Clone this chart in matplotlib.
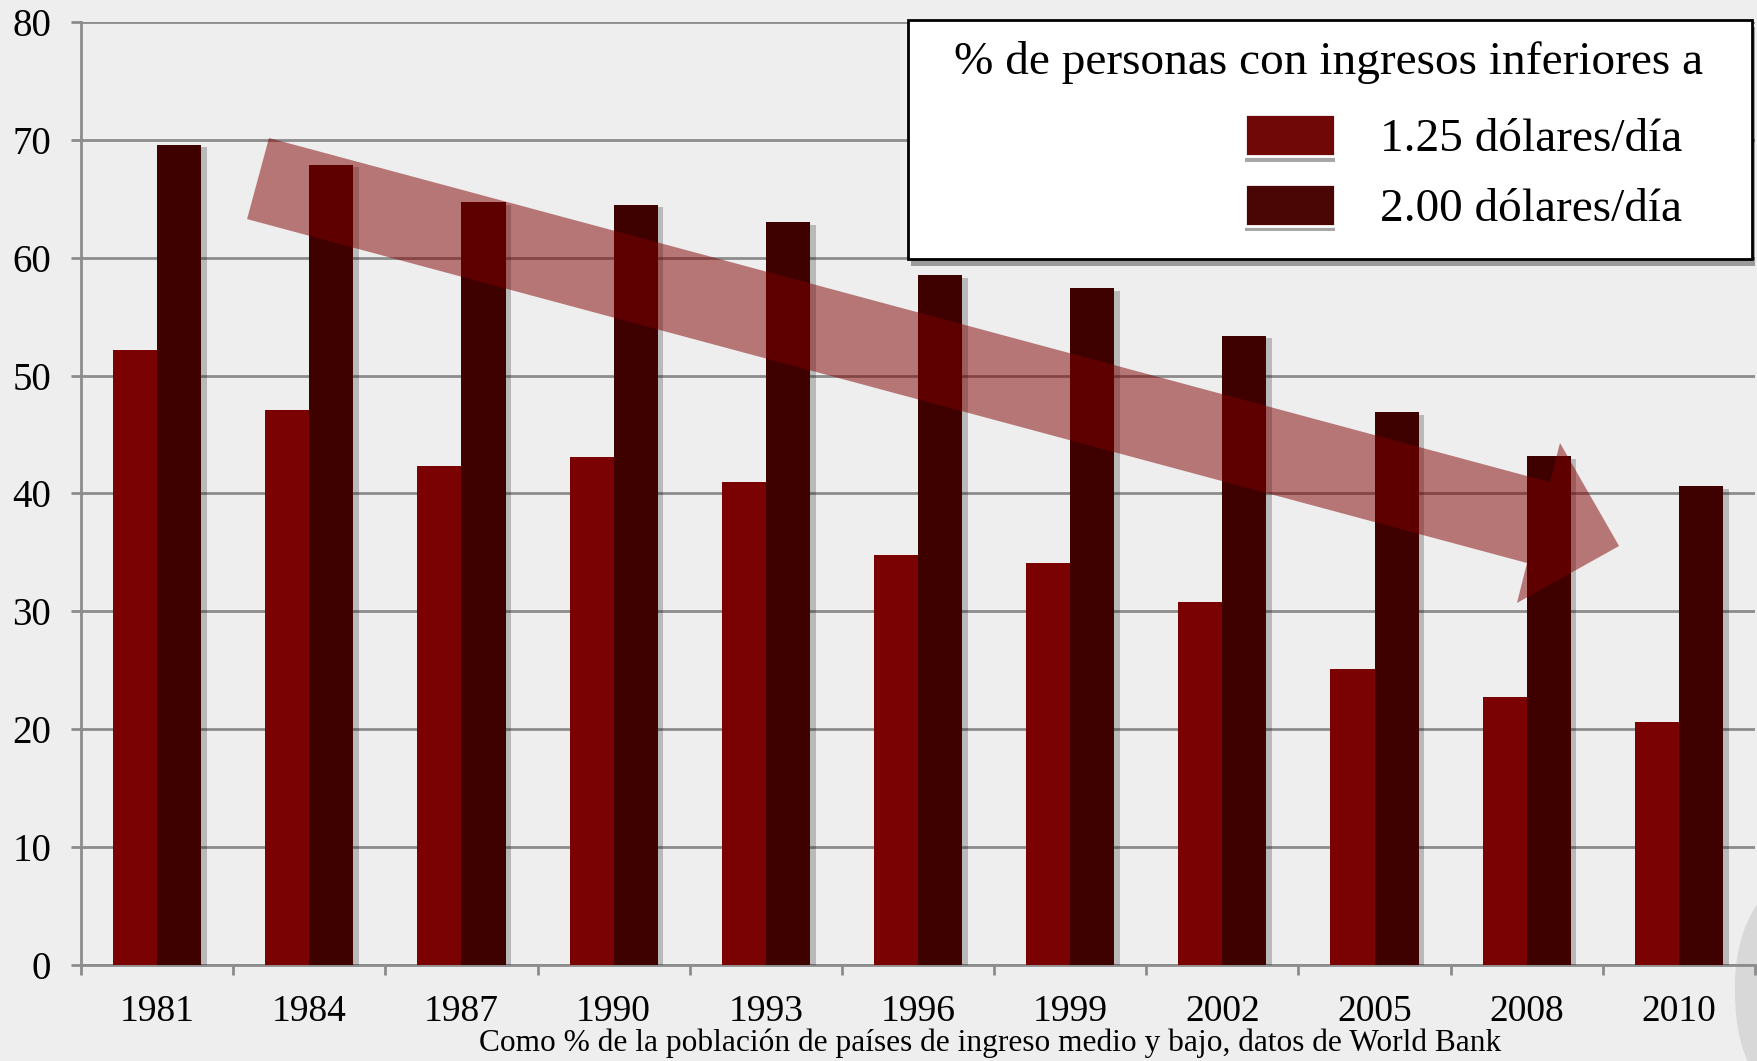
import matplotlib
matplotlib.use('Agg')
import matplotlib.pyplot as plt
import numpy as np
from matplotlib.patches import Patch, Rectangle, Polygon
import matplotlib.patheffects as pe

# ---------------- data ----------------
years = ['1981', '1984', '1987', '1990', '1993', '1996', '1999', '2002', '2005', '2008', '2010']
below_125 = [52.2, 47.1, 42.3, 43.1, 41.0, 34.8, 34.1, 30.8, 25.1, 22.7, 20.6]
below_200 = [69.6, 67.9, 64.7, 64.5, 63.0, 58.5, 57.4, 53.4, 46.9, 43.2, 40.6]
series_labels = ['1.25 dólares/día', '2.00 dólares/día']
legend_title = '% de personas con ingresos inferiores a'
caption = 'Como % de la población de países de ingreso medio y bajo, datos de World Bank'
y_ticks = [0, 10, 20, 30, 40, 50, 60, 70, 80]

# ---------------- style ----------------
plt.rcParams['font.family'] = ['Liberation Serif', 'DejaVu Serif']
W, H = 1758, 1061
BG = '#eeeeee'
GRID = '#8c8c8c'
C125 = '#7a0202'
C200 = '#3f0000'

fig = plt.figure(figsize=(W / 100, H / 100), dpi=100, facecolor=BG)

# faint slide number in the bottom-right corner (partly off the slide, as in the original)
fig.text(1722 / W, 1 - 860 / H, '6', fontsize=250, fontweight='bold',
         color='#d8d8d8', ha='left', va='top', zorder=-5)

ax = fig.add_axes([81 / W, 1 - 965 / H, 1674 / W, 943 / H])
ax.set_facecolor('none')

x = np.arange(len(years))
w = 0.29
bar_shadow = [pe.SimplePatchShadow(offset=(4, -2), shadow_rgbFace='k', alpha=0.22), pe.Normal()]
ax.bar(x - w / 2, below_125, w, color=C125, zorder=3, path_effects=bar_shadow)
ax.bar(x + w / 2, below_200, w, color=C200, zorder=3, path_effects=bar_shadow)

ax.set_xlim(-0.5, len(years) - 0.5)
ax.set_ylim(0, 80)

ax.set_yticks(y_ticks)
ax.set_yticklabels([str(v) for v in y_ticks])
ax.yaxis.grid(True, color=GRID, linewidth=2)
ax.set_axisbelow(True)

ax.set_xticks(np.arange(-0.5, len(years), 1.0))
ax.set_xticklabels([])
ax.set_xticks(x, years, minor=True)
ax.tick_params(axis='x', which='major', length=7.5, width=2, color=GRID, direction='out')
ax.tick_params(axis='x', which='minor', length=0, labelsize=27, pad=21)
ax.tick_params(axis='y', length=7.5, width=2, color=GRID, labelsize=28, pad=14)

for s in ['top', 'right']:
    ax.spines[s].set_visible(False)
for s in ['left', 'bottom']:
    ax.spines[s].set_color(GRID)
    ax.spines[s].set_linewidth(2)

# translucent trend arrow (axes-fraction outline)
arrow_pts = [(0.1123, 0.877), (0.8775, 0.512), (0.8835, 0.5536), (0.9188, 0.4443),
             (0.8578, 0.3839), (0.8638, 0.4263), (0.0992, 0.791)]
ax.add_patch(Polygon(arrow_pts, closed=True, transform=ax.transAxes,
                     facecolor='#800000', alpha=0.5, edgecolor='none', zorder=4))

# legend box
box = Rectangle((908 / W, 1 - 259 / H), (1752 - 908) / W, (259 - 20) / H,
                transform=fig.transFigure, facecolor='white', edgecolor='black',
                linewidth=2, zorder=5,
                path_effects=[pe.SimplePatchShadow(offset=(2, -5), shadow_rgbFace='k', alpha=0.35),
                              pe.Normal()])
fig.add_artist(box)
fig.text(1329 / W, 1 - 62 / H, legend_title, fontsize=34, ha='center', va='center', zorder=6)

handles = [Patch(facecolor=c, edgecolor='white', linewidth=2,
                 path_effects=[pe.SimplePatchShadow(offset=(0, -4), shadow_rgbFace='k', alpha=0.35),
                               pe.Normal()])
           for c in ['#700808', '#4a0505']]
leg = fig.legend(handles, series_labels, loc='upper left',
                 bbox_to_anchor=(1245 / W, 1 - 114 / H), frameon=False, fontsize=34,
                 handlelength=1.9, handleheight=1.0, handletextpad=0.95,
                 labelspacing=0.47, borderpad=0, borderaxespad=0)
leg.set_zorder(7)

fig.text(990 / W, 1 - 1043 / H, caption, fontsize=22.6, ha='center', va='center')

fig.savefig('out.png', dpi=100, facecolor=BG)
